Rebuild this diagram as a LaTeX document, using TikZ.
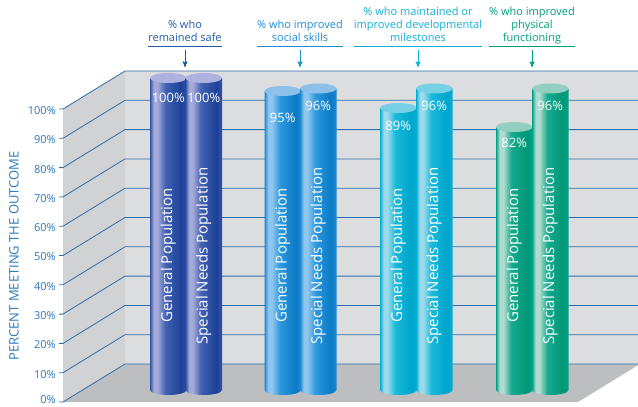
\documentclass[tikz,border=0pt]{standalone}
\usepackage{fontspec}
\setmainfont{Open Sans}
\usetikzlibrary{arrows,positioning}

\definecolor{gridblue}{HTML}{2A6FAE}
\definecolor{labelblue}{HTML}{2878BE}
\definecolor{wallback}{HTML}{DCDDDF}
\definecolor{wallside}{HTML}{D1D2D4}
\definecolor{floorgray}{HTML}{BDBEC0}
% header colours
\definecolor{hA}{HTML}{1D5BA6}
\definecolor{hB}{HTML}{1F8DD6}
\definecolor{hC}{HTML}{12B0D6}
\definecolor{hD}{HTML}{009C7E}
% cylinder colours
\definecolor{aEdge}{HTML}{3452A4}\definecolor{aLight}{HTML}{A3AAD8}\definecolor{aMid}{HTML}{4262B2}\definecolor{aDark}{HTML}{1B4197}\definecolor{aTop}{HTML}{ADB2DE}
\definecolor{bEdge}{HTML}{1E88D0}\definecolor{bLight}{HTML}{8EC6EE}\definecolor{bMid}{HTML}{2E98DE}\definecolor{bDark}{HTML}{0B7BC5}\definecolor{bTop}{HTML}{8FC0EA}
\definecolor{cEdge}{HTML}{00AED2}\definecolor{cLight}{HTML}{9ADAEA}\definecolor{cMid}{HTML}{18B9DB}\definecolor{cDark}{HTML}{00A5CB}\definecolor{cTop}{HTML}{78D0E4}
\definecolor{dEdge}{HTML}{00A284}\definecolor{dLight}{HTML}{B0DCD0}\definecolor{dMid}{HTML}{16AA8E}\definecolor{dDark}{HTML}{009777}\definecolor{dTop}{HTML}{94CEC0}

\pgfdeclarehorizontalshading{cylA}{100bp}{color(0bp)=(aEdge); color(25bp)=(aEdge); color(30bp)=(aLight); color(35bp)=(aLight); color(46bp)=(aMid); color(67bp)=(aDark); color(75bp)=(aEdge); color(100bp)=(aEdge)}
\pgfdeclarehorizontalshading{cylB}{100bp}{color(0bp)=(bEdge); color(25bp)=(bEdge); color(30bp)=(bLight); color(35bp)=(bLight); color(46bp)=(bMid); color(67bp)=(bDark); color(75bp)=(bEdge); color(100bp)=(bEdge)}
\pgfdeclarehorizontalshading{cylC}{100bp}{color(0bp)=(cEdge); color(25bp)=(cEdge); color(30bp)=(cLight); color(35bp)=(cLight); color(46bp)=(cMid); color(67bp)=(cDark); color(75bp)=(cEdge); color(100bp)=(cEdge)}
\pgfdeclarehorizontalshading{cylD}{100bp}{color(0bp)=(dEdge); color(25bp)=(dEdge); color(30bp)=(dLight); color(35bp)=(dLight); color(46bp)=(dMid); color(67bp)=(dDark); color(75bp)=(dEdge); color(100bp)=(dEdge)}

% left x, top y, shading, cap colour
\newcommand{\drawcyl}[4]{%
  \shade[shading=#3] (#1,#2) -- (#1,390) arc[start angle=180, end angle=0, x radius=18.25, y radius=5] -- ({#1+36.5},#2) -- cycle;
  \fill[#4] ({#1+18.25},#2) ellipse[x radius=18.25, y radius=5];
}

\tikzset{
  >=stealth', % small filled arrow heads
  grid line/.style={gridblue, line width=0.8pt},
  axis label/.style={labelblue, anchor=east, inner sep=0pt, font=\fontsize{11}{13}\selectfont},
  head/.style={align=center, anchor=south, inner xsep=0pt, inner ysep=4pt, text depth=0pt, font=\fontsize{11}{13}\selectfont},
  head line/.style={line width=0.9pt},
  cyl text/.style={white, rotate=90, anchor=west, inner sep=0pt, font=\fontsize{15}{15}\selectfont},
  pct/.style={white, inner sep=0pt, font=\fontsize{13}{14}\selectfont},
}

\begin{document}
\begin{tikzpicture}[x=1pt, y=-1pt]
  \useasboundingbox (0,0) rectangle (638,407);

  % walls and floor
  \fill[wallback] (125,71) rectangle (638,364);
  \fill[wallside] (63,109) -- (125,71) -- (125,364) -- (63,402) -- cycle;
  \fill[floorgray] (63,402) -- (125,364) -- (640,364) -- (578,402) -- cycle;

  % grid and scale
  \foreach \i in {0,...,10} {
    \pgfmathsetmacro\yb{364-29.3*\i}
    \pgfmathsetmacro\yl{min(\yb+39.5,400)}
    \pgfmathtruncatemacro\p{10*\i}
    \draw[grid line] (59,\yb+38) -- (63,\yb+38) -- (125,\yb) -- (638,\yb);
    \node[axis label] (y\p) at (56,\yl) {\p\%};
  }
  \node[labelblue, rotate=90, font=\fontsize{13}{13}\selectfont] (ytitle) at (14,256) {PERCENT MEETING THE OUTCOME};

  % cylinders
  \drawcyl{150}{78}{cylA}{aTop}
  \drawcyl{185.5}{78}{cylA}{aTop}
  \drawcyl{264.5}{91}{cylB}{bTop}
  \drawcyl{300}{88.5}{cylB}{bTop}
  \drawcyl{380}{108}{cylC}{cTop}
  \drawcyl{416}{88.5}{cylC}{cTop}
  \drawcyl{496}{127}{cylD}{dTop}
  \drawcyl{532}{88.5}{cylD}{dTop}

  % texts on the cylinders
  \node[cyl text] (genA) at (168.25,323) {General Population};
  \node[cyl text] (specA) at (203.75,345) {Special Needs Population};
  \node[cyl text] (genB) at (282.75,323) {General Population};
  \node[cyl text] (specB) at (318.25,345) {Special Needs Population};
  \node[cyl text] (genC) at (398.25,323) {General Population};
  \node[cyl text] (specC) at (434.25,345) {Special Needs Population};
  \node[cyl text] (genD) at (514.25,323) {General Population};
  \node[cyl text] (specD) at (550.25,345) {Special Needs Population};

  \node[pct] (pgA) at (168.25,98) {100\%};
  \node[pct] (psA) at (203.75,98) {100\%};
  \node[pct] (pgB) at (282.75,118) {95\%};
  \node[pct] (psB) at (318.25,106) {96\%};
  \node[pct] (pgC) at (398.25,126) {89\%};
  \node[pct] (psC) at (434.25,106) {96\%};
  \node[pct] (pgD) at (514.25,143) {82\%};
  \node[pct] (psD) at (550.25,106) {96\%};

  % headers
  \node[head, hA] (hdA) at (185,46) {\% who\\remained safe};
  \node[head, hB] (hdB) at (300,46) {\% who improved\\social skills};
  \node[head, hC] (hdC) at (418,46) {\% who maintained or\\improved developmental\\milestones};
  \node[head, hD] (hdD) at (532,46) {\% who improved\\physical\\functioning};
  \coordinate (tA) at (185,67);
  \coordinate (tB) at (300,67);
  \coordinate (tC) at (418,67);
  \coordinate (tD) at (532,67);
  \draw[head line, hA] (hdA.south west) -- (hdA.south east);
  \draw[head line, hB] (hdB.south west) -- (hdB.south east);
  \draw[head line, hC] (hdC.south west) -- (hdC.south east);
  \draw[head line, hD] (hdD.south west) -- (hdD.south east);
  \draw[->, hA, line width=1pt] ([yshift=-4pt]hdA.south) -- (tA);
  \draw[->, hB, line width=1pt] ([yshift=-4pt]hdB.south) -- (tB);
  \draw[->, hC, line width=1pt] ([yshift=-4pt]hdC.south) -- (tC);
  \draw[->, hD, line width=1pt] ([yshift=-4pt]hdD.south) -- (tD);
\end{tikzpicture}
\end{document}
